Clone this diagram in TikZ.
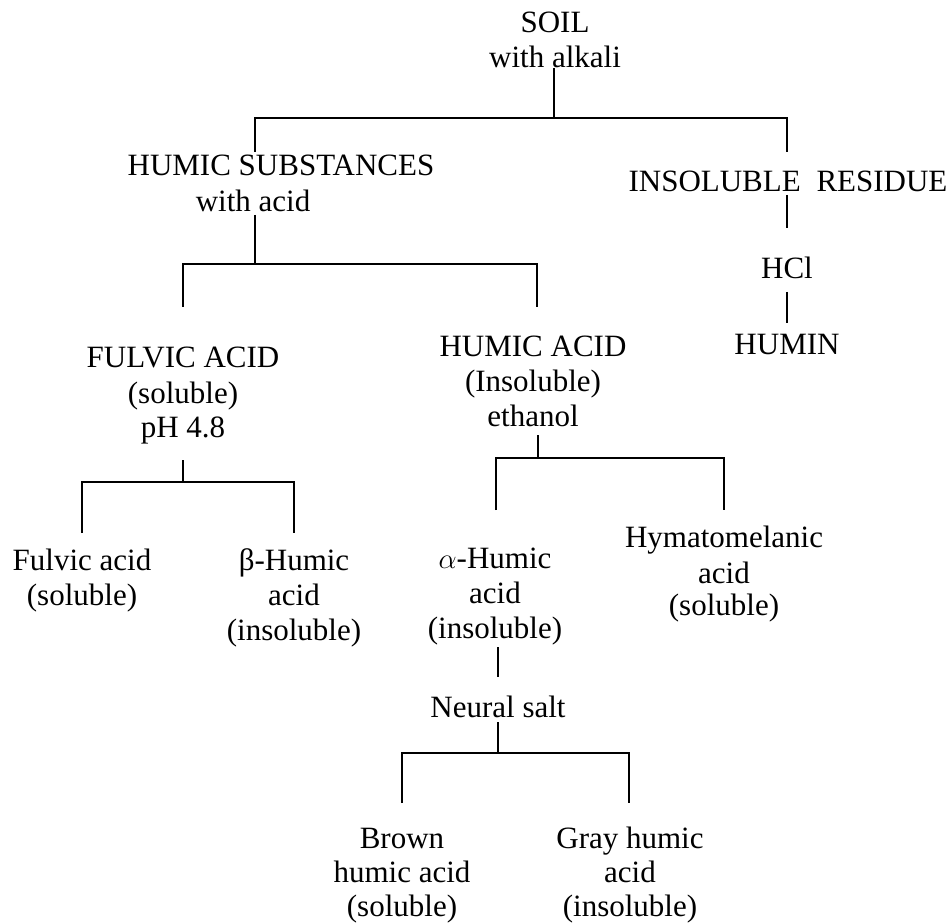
\documentclass[tikz,border=0pt]{standalone}
\usepackage{fontspec}
\setmainfont{Liberation Serif}
\newcommand{\rows}[1]{\begin{tabular}[t]{@{}c@{}}#1\end{tabular}}
\begin{document}
\begin{tikzpicture}[x=0.5pt,y=-0.5pt,line width=0.8pt,
  every node/.style={anchor=base,inner sep=0pt,font=\fontsize{15.5}{17.5}\selectfont}]
\useasboundingbox(0,0)rectangle(946,924);
% texts
\node(soil)at(555,33){\rows{SOIL\\with alkali}};
\node(humsub)at(281,176){HUMIC SUBSTANCES};
\node(withacid)at(253,212){with acid};
\node(insol)at(788,192){INSOLUBLE\hspace{4pt} RESIDUE};
\node(hcl)at(787,279){HCl};
\node(humin)at(787,355){HUMIN};
\node(fulvic)at(183,368){\rows{FULVIC ACID\\(soluble)\\pH 4.8}};
\node(humic)at(533,357){\rows{HUMIC ACID\\(Insoluble)\\ethanol}};
\node(fa)at(82,570){\rows{Fulvic acid\\(soluble)}};
\node(beta)at(294,570){\rows{β-Humic\\acid\\(insoluble)}};
\node(alpha)at(495,568){\rows{$\alpha$-Humic\\acid\\(insoluble)}};
\node(hymato)at(724,547){\rows{Hymatomelanic\\[0.5pt]acid\\[-1.5pt](soluble)}};
\node(neural)at(498,717){Neural salt};
\node(brown)at(402,848){\rows{Brown\\[-0.5pt]humic acid\\[-0.5pt](soluble)}};
\node(gray)at(630,848){\rows{Gray humic\\[-0.5pt]acid\\[-0.5pt](insoluble)}};
% line ends
\coordinate(soil-out)at(554,68);\coordinate(soil-fork)at(554,118);
\coordinate(humsub-in)at(255,152);\coordinate(insol-in)at(787,152);
\coordinate(withacid-out)at(255,215);\coordinate(withacid-fork)at(255,264);
\coordinate(fulvic-in)at(183,307);\coordinate(humic-in)at(537,307);
\coordinate(insol-out)at(787,195);\coordinate(hcl-in)at(787,228);
\coordinate(hcl-out)at(787,292);\coordinate(humin-in)at(787,323);
\coordinate(fulvic-out)at(183,460);\coordinate(fulvic-fork)at(183,482);
\coordinate(fa-in)at(82,533);\coordinate(beta-in)at(294,533);
\coordinate(humic-out)at(538,435);\coordinate(humic-fork)at(538,458);
\coordinate(alpha-in)at(496,510);\coordinate(hymato-in)at(724,510);
\coordinate(alpha-out)at(498,647);\coordinate(neural-in)at(498,677);
\coordinate(neural-out)at(498,722);\coordinate(neural-fork)at(498,753);
\coordinate(brown-in)at(402,803);\coordinate(gray-in)at(629,803);
% connectors
\draw(soil-out)--(soil-fork);
\draw(humsub-in)|-(soil-fork)-|(insol-in);
\draw(withacid-out)--(withacid-fork);
\draw(fulvic-in)|-(withacid-fork)-|(humic-in);
\draw(insol-out)--(hcl-in);
\draw(hcl-out)--(humin-in);
\draw(fulvic-out)--(fulvic-fork);
\draw(fa-in)|-(fulvic-fork)-|(beta-in);
\draw(humic-out)--(humic-fork);
\draw(alpha-in)|-(humic-fork)-|(hymato-in);
\draw(alpha-out)--(neural-in);
\draw(neural-out)--(neural-fork);
\draw(brown-in)|-(neural-fork)-|(gray-in);
\end{tikzpicture}
\end{document}
